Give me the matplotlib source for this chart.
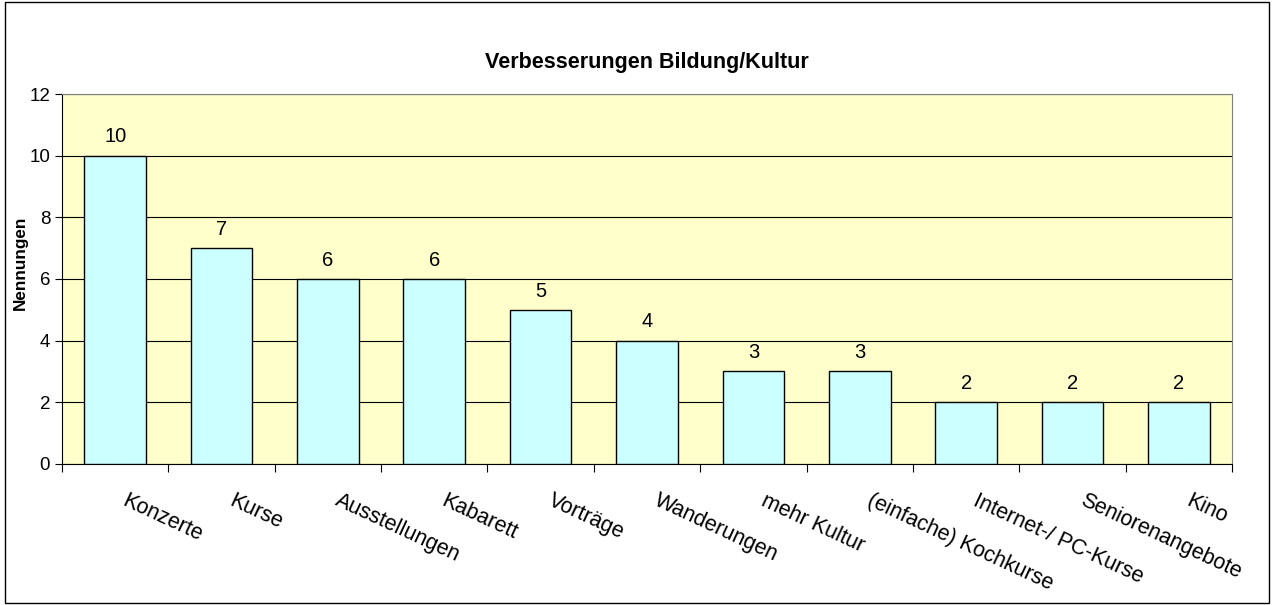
import numpy as np
import matplotlib.pyplot as plt
import matplotlib.transforms as mtransforms
from matplotlib.patches import Rectangle

plt.rcParams['font.family'] = ['Liberation Sans', 'DejaVu Sans']

categories = ['Konzerte', 'Kurse', 'Ausstellungen', 'Kabarett', 'Vorträge',
              'Wanderungen', 'mehr Kultur', '(einfache) Kochkurse',
              'Internet-/ PC-Kurse', 'Seniorenangebote', 'Kino']
values = [10, 7, 6, 6, 5, 4, 3, 3, 2, 2, 2]

fig = plt.figure(figsize=(12.73, 6.05), dpi=100)
fig.patches.append(Rectangle((0.004, 0.003), 0.993, 0.994, transform=fig.transFigure,
                             fill=False, edgecolor='black', linewidth=1))
ax = fig.add_axes([0.0487, 0.2331, 0.9191, 0.6115])
ax.set_facecolor('#FFFFCC')

x = np.arange(len(categories))
bars = ax.bar(x, values, width=0.58, color='#CCFFFF', edgecolor='black', linewidth=1, zorder=3)
for xi, v in zip(x, values):
    ax.text(xi, v + 0.3, str(v), ha='center', va='bottom', fontsize=14.5)

ax.set_xlim(-0.5, len(categories) - 0.5)
ax.set_ylim(0, 12)
ax.set_yticks(range(0, 13, 2))
ax.yaxis.grid(True, color='black', linewidth=0.8, zorder=0)
ax.set_axisbelow(True)
ax.tick_params(axis='y', labelsize=13.5, length=5, direction='out')

ax.set_xticks(np.arange(-0.5, len(categories), 1.0))
ax.set_xticklabels([])
ax.tick_params(axis='x', length=6, direction='out')
ax.set_xticks(x, minor=True)
ax.set_xticklabels(categories, minor=True, rotation=-25, ha='left', va='top',
                   rotation_mode='anchor', fontsize=15.5)
ax.tick_params(axis='x', which='minor', length=0, pad=19)
shift = mtransforms.ScaledTranslation(13 / 100, 0, fig.dpi_scale_trans)
for lab in ax.get_xticklabels(minor=True):
    lab.set_transform(lab.get_transform() + shift)

for s in ['top', 'right']:
    ax.spines[s].set_color('#808080')
for s in ['left', 'bottom']:
    ax.spines[s].set_color('black')

fig.text(20 / 1273, 1 - 263 / 605, 'Nennungen', rotation=90, ha='center', va='center',
         fontsize=12.3, fontweight='bold')
ax.set_title('Verbesserungen Bildung/Kultur', fontsize=15.5, fontweight='bold', pad=19)

fig.savefig('out.png', dpi=100)
